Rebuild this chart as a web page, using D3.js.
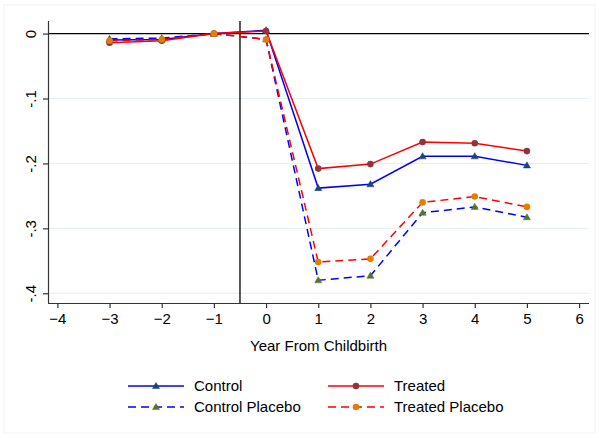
<!DOCTYPE html>
<html>
<head>
<meta charset="utf-8">
<script src="https://cdn.jsdelivr.net/npm/d3@7"></script>
<style>
  body { margin: 0; background: #fff; }
  svg { display: block; font-family: "Liberation Sans", Arial, Helvetica, sans-serif; }
</style>
</head>
<body>
<div id="chart"></div>
<script>
const years = [-3, -2, -1, 0, 1, 2, 3, 4, 5];
const control = [-0.010, -0.009, 0, 0.005, -0.238, -0.232, -0.189, -0.189, -0.203];
const treated = [-0.014, -0.011, 0, 0.004, -0.208, -0.201, -0.167, -0.169, -0.181];
const controlPlacebo = [-0.008, -0.007, 0, -0.009, -0.380, -0.373, -0.276, -0.267, -0.283];
const treatedPlacebo = [-0.011, -0.009, 0, -0.009, -0.352, -0.347, -0.260, -0.251, -0.267];
const xTicks = [-4, -3, -2, -1, 0, 1, 2, 3, 4, 5, 6];
const yTicks = [0, -0.1, -0.2, -0.3, -0.4];
const yTickLabels = ['0', '-.1', '-.2', '-.3', '-.4'];

const series = [
  {name: 'Control', values: control, line: '#0000ff', marker: '#1a476f', dash: null, shape: 'tri'},
  {name: 'Treated', values: treated, line: '#ff0000', marker: '#90353b', dash: null, shape: 'circle'},
  {name: 'Control Placebo', values: controlPlacebo, line: '#0000ff', marker: '#55752f', dash: '8,5', shape: 'tri'},
  {name: 'Treated Placebo', values: treatedPlacebo, line: '#ff0000', marker: '#e37e00', dash: '8,5', shape: 'circle'}
];

const width = 599, height = 438;
const fontSize = '15px';
const svg = d3.select('#chart').append('svg')
  .attr('width', width)
  .attr('height', height);

svg.append('rect')
  .attr('x', 4).attr('y', 5)
  .attr('width', 591).attr('height', 428)
  .attr('fill', 'none')
  .attr('stroke', '#eef2f4');

const plotL = 48, plotR = 589, plotT = 21, plotB = 303;
const x = d3.scaleLinear().domain([-4.18, 6.19]).range([plotL, plotR]);
const y = d3.scaleLinear().domain([0.0194, -0.415]).range([plotT, plotB]);

// grid lines
svg.append('g')
  .selectAll('line')
  .data(yTicks.slice(1))
  .join('line')
    .attr('x1', plotL).attr('x2', plotR)
    .attr('y1', d => y(d)).attr('y2', d => y(d))
    .attr('stroke', '#e6eff1')
    .attr('stroke-width', 1);

// zero line and event line
svg.append('line')
  .attr('x1', plotL).attr('x2', plotR)
  .attr('y1', y(0)).attr('y2', y(0))
  .attr('stroke', '#000').attr('stroke-width', 1.3);
svg.append('line')
  .attr('x1', x(-0.5)).attr('x2', x(-0.5))
  .attr('y1', plotT).attr('y2', plotB)
  .attr('stroke', '#000').attr('stroke-width', 1.3);

// axes
const xAxis = svg.append('g')
  .attr('transform', `translate(0,${plotB})`)
  .call(d3.axisBottom(x).tickValues(xTicks).tickFormat(d3.format('d')).tickSize(5).tickPadding(5));
const yAxis = svg.append('g')
  .attr('transform', `translate(${plotL},0)`)
  .call(d3.axisLeft(y).tickValues(yTicks).tickFormat((d, i) => yTickLabels[i]).tickSize(5).tickPadding(5));

[xAxis, yAxis].forEach(a => {
  a.select('.domain').attr('stroke', '#333').attr('stroke-width', 1.2);
  a.selectAll('.tick line').attr('stroke', '#333').attr('stroke-width', 1.2);
  a.selectAll('text').attr('fill', '#000').style('font-size', fontSize).style('font-family', '"Liberation Sans", Arial, sans-serif');
});
xAxis.select('.domain').attr('d', `M${plotL},0.5H${plotR}`);
yAxis.select('.domain').attr('d', `M0.5,${plotT}V${plotB}`);

yAxis.selectAll('.tick text')
  .attr('x', null).attr('dy', null)
  .attr('text-anchor', 'middle')
  .attr('transform', 'translate(-12,0) rotate(-90)');

svg.append('text')
  .attr('x', (plotL + plotR) / 2)
  .attr('y', 351)
  .attr('text-anchor', 'middle')
  .style('font-size', fontSize)
  .text('Year From Childbirth');

// series
const line = d3.line()
  .x((d, i) => x(years[i]))
  .y(d => y(d));

const triangle = d3.symbol().type(d3.symbolTriangle).size(22);

const drawMarker = (g, s, cx, cy) => {
  if (s.shape === 'tri') {
    g.append('path')
      .attr('d', triangle())
      .attr('transform', `translate(${cx},${cy + 0.5})`)
      .attr('fill', s.marker)
      .attr('stroke', s.marker).attr('stroke-width', 0.5);
  } else {
    g.append('circle')
      .attr('cx', cx).attr('cy', cy)
      .attr('r', 3.3)
      .attr('fill', s.marker);
  }
};

const plot = svg.append('g');
series.forEach(s => {
  plot.append('path')
    .datum(s.values)
    .attr('d', line)
    .attr('fill', 'none')
    .attr('stroke', s.line)
    .attr('stroke-width', 1.5)
    .attr('stroke-dasharray', s.dash);
});
series.forEach(s => {
  const g = plot.append('g');
  s.values.forEach((v, i) => drawMarker(g, s, x(years[i]), y(v)));
});

// legend
const legendPos = [[128, 386], [328, 386], [128, 407], [328, 407]];
series.forEach((s, j) => {
  const [lx, ly] = legendPos[j];
  const g = svg.append('g');
  g.append('line')
    .attr('x1', lx).attr('x2', lx + 56)
    .attr('y1', ly).attr('y2', ly)
    .attr('stroke', s.line)
    .attr('stroke-width', 1.5)
    .attr('stroke-dasharray', s.dash);
  drawMarker(g, s, lx + 28, ly);
  g.append('text')
    .attr('x', lx + 66)
    .attr('y', ly + 5)
    .style('font-size', fontSize)
    .text(s.name);
});
</script>
</body>
</html>
